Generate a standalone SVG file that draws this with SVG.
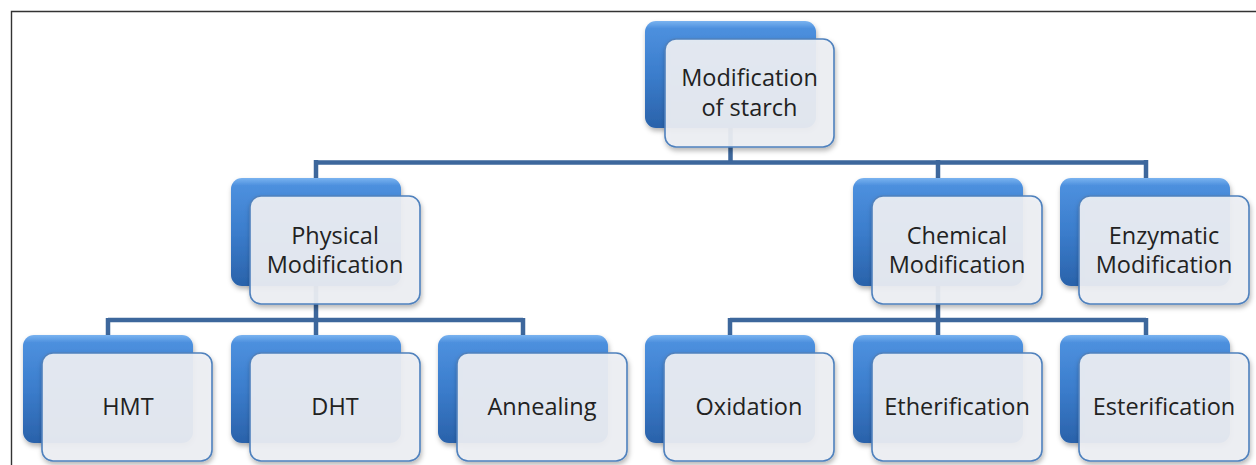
<svg xmlns="http://www.w3.org/2000/svg" width="1256" height="465" viewBox="0 0 1256 465">
<defs>
<linearGradient id="blue" x1="0" y1="0" x2="0" y2="1">
<stop offset="0" stop-color="#7ab3f0"/>
<stop offset="0.07" stop-color="#4d90de"/>
<stop offset="0.5" stop-color="#3b7dcc"/>
<stop offset="1" stop-color="#2a62aa"/>
</linearGradient>
<filter id="sh" x="-10%" y="-10%" width="125%" height="130%">
<feDropShadow dx="1" dy="3" stdDeviation="2.5" flood-color="#000" flood-opacity="0.3"/>
</filter>
<style>
.back{fill:url(#blue);filter:url(#sh)}
.front{fill:#eef0f4;fill-opacity:0.92;stroke:#4f81bd;stroke-width:1.6;filter:url(#sh)}
.lbl{font-family:"Open Sans","Liberation Sans",sans-serif;font-size:23.5px;fill:#222;text-anchor:middle}
.con{stroke:#3d679c;stroke-width:4.5;fill:none}
</style>
</defs>
<rect width="1256" height="465" fill="#fff"/>
<path d="M11.5 465 V11.5 H1256" fill="none" stroke="#333" stroke-width="1.4"/>
<g id="connectors">
<path class="con" d="M730.5 128 V162.5 M316 162.5 H1146 M316 160 V180 M938 160 V180 M1146 160 V180"/>
<path class="con" d="M316 286 V320 M108 320 H523 M108 318 V337 M316 318 V337 M523 318 V337"/>
<path class="con" d="M938 286 V320 M730 320 H1146 M730 318 V337 M938 318 V337 M1146 318 V337"/>
</g>
<g id="root">
<rect class="back" x="645" y="21" width="171" height="107" rx="11"/>
<rect class="front" x="665" y="39" width="169" height="108" rx="11"/>
<text class="lbl" x="749.5" y="86">Modification</text>
<text class="lbl" x="749.5" y="115.5">of starch</text>
</g>
<g id="physical">
<rect class="back" x="231" y="178" width="170" height="108" rx="11"/>
<rect class="front" x="250" y="196" width="170" height="108" rx="11"/>
<text class="lbl" x="335" y="243.5">Physical</text>
<text class="lbl" x="335" y="273">Modification</text>
</g>
<g id="chemical">
<rect class="back" x="853" y="178" width="170" height="108" rx="11"/>
<rect class="front" x="872" y="196" width="170" height="108" rx="11"/>
<text class="lbl" x="957" y="243.5">Chemical</text>
<text class="lbl" x="957" y="273">Modification</text>
</g>
<g id="enzymatic">
<rect class="back" x="1060" y="178" width="170" height="108" rx="11"/>
<rect class="front" x="1079" y="196" width="170" height="108" rx="11"/>
<text class="lbl" x="1164" y="243.5">Enzymatic</text>
<text class="lbl" x="1164" y="273">Modification</text>
</g>
<g id="hmt">
<rect class="back" x="23" y="335" width="170" height="108" rx="11"/>
<rect class="front" x="42" y="353" width="170" height="108" rx="11"/>
<text class="lbl" x="128" y="415">HMT</text>
</g>
<g id="dht">
<rect class="back" x="231" y="335" width="170" height="108" rx="11"/>
<rect class="front" x="250" y="353" width="170" height="108" rx="11"/>
<text class="lbl" x="335" y="415">DHT</text>
</g>
<g id="annealing">
<rect class="back" x="438" y="335" width="170" height="108" rx="11"/>
<rect class="front" x="457" y="353" width="170" height="108" rx="11"/>
<text class="lbl" x="542" y="415">Annealing</text>
</g>
<g id="oxidation">
<rect class="back" x="645" y="335" width="170" height="108" rx="11"/>
<rect class="front" x="664" y="353" width="170" height="108" rx="11"/>
<text class="lbl" x="749" y="415">Oxidation</text>
</g>
<g id="etherification">
<rect class="back" x="853" y="335" width="170" height="108" rx="11"/>
<rect class="front" x="872" y="353" width="170" height="108" rx="11"/>
<text class="lbl" x="957" y="415">Etherification</text>
</g>
<g id="esterification">
<rect class="back" x="1060" y="335" width="170" height="108" rx="11"/>
<rect class="front" x="1079" y="353" width="170" height="108" rx="11"/>
<text class="lbl" x="1164" y="415">Esterification</text>
</g>
</svg>
